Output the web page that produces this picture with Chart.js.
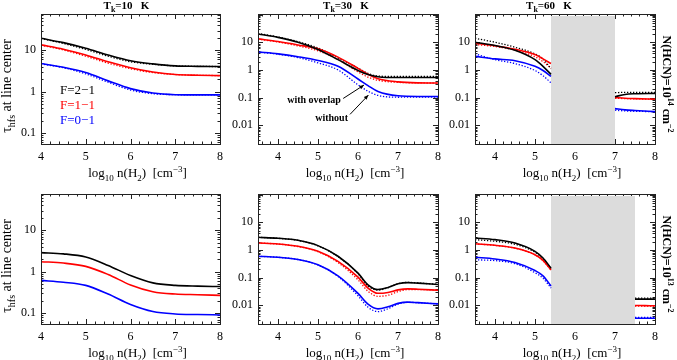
<!DOCTYPE html>
<html>
<head>
<meta charset="utf-8">
<script src="https://cdn.jsdelivr.net/npm/chart.js@4.4.1/dist/chart.umd.min.js"></script>
<style>
  body { margin: 0; background: #fff; }
  #wrap { position: relative; width: 677px; height: 360px; }
  #wrap canvas { position: absolute; left: 0; top: 0; }
</style>
</head>
<body>
<div id="wrap">
  <canvas id="p1" width="677" height="360"></canvas>
  <canvas id="p2" width="677" height="360"></canvas>
  <canvas id="p3" width="677" height="360"></canvas>
  <canvas id="p4" width="677" height="360"></canvas>
  <canvas id="p5" width="677" height="360"></canvas>
  <canvas id="p6" width="677" height="360"></canvas>
</div>
<script>
// tick labels
const xTickLabels = [4, 5, 6, 7, 8];
const yLabelsWide = [0.1, 1, 10];
const yLabelsDeep = [0.01, 0.1, 1, 10];

// Tk=10 K, N(HCN)=1e14  (solid = with overlap, "no" = without)
const t10aX = [4, 4.5, 5, 5.5, 6, 6.5, 7, 7.5, 8];
const t10aF21 = [19.5, 15.3, 11.2, 7.7, 5.6, 4.7, 4.2, 4.1, 4.05];
const t10aF21no = [19.3, 14.6, 10.5, 7.2, 5.3, 4.6, 4.2, 4.1, 4.05];
const t10aF11 = [13.5, 10.6, 7.7, 5.3, 3.8, 3.0, 2.6, 2.5, 2.45];
const t10aF11no = [13.3, 10.2, 7.2, 4.9, 3.6, 2.9, 2.6, 2.5, 2.45];
const t10aF01 = [4.8, 3.9, 2.9, 1.83, 1.19, 0.93, 0.85, 0.84, 0.84];
const t10aF01no = [4.7, 3.8, 2.7, 1.7, 1.1, 0.9, 0.85, 0.84, 0.84];

// Tk=30 K, 1e14
const t30aX = [3.5, 4, 4.5, 5, 5.5, 6, 6.25, 6.5, 7, 7.5, 8];
const t30aF21 = [20, 15, 10, 5.5, 2.35, 0.96, 0.68, 0.57, 0.53, 0.53, 0.53];
const t30aF21no = [21, 15.5, 10.5, 6.2, 2.7, 1.17, 0.75, 0.6, 0.58, 0.58, 0.58];
const t30aF11 = [13.2, 10.6, 8.0, 5.8, 2.9, 1.14, 0.7, 0.48, 0.37, 0.34, 0.335];
const t30aF11no = [13, 10.2, 7.4, 4.9, 2.4, 0.85, 0.55, 0.42, 0.355, 0.34, 0.335];
const t30aF01 = [4.45, 3.8, 3.0, 2.2, 1.35, 0.47, 0.27, 0.166, 0.116, 0.11, 0.11];
const t30aF01no = [4.4, 3.7, 2.8, 1.8, 1.0, 0.29, 0.17, 0.12, 0.103, 0.105, 0.105];

// Tk=60 K, 1e14 (gap where there is no solution)
const t60aX = [3.5, 4, 4.5, 5, 5.2, 5.4, 6.2, 7, 7.25, 7.5, 8];
const t60aF21 = [10, 7.6, 5.1, 2.35, 1.35, 0.69, null, 0.108, 0.13, 0.138, 0.142];
const t60aF21no = [14, 10, 6.6, 3.8, 2.5, 1.1, null, 0.15, 0.155, 0.155, 0.155];
const t60aF11 = [9.2, 7.5, 5.6, 3.6, 2.5, 1.7, null, 0.1, 0.095, 0.092, 0.087];
const t60aF11no = [8.3, 7.0, 5.2, 3.0, 2.0, 1.15, null, 0.095, 0.092, 0.09, 0.087];
const t60aF01 = [3.1, 2.5, 2.15, 1.35, 0.95, 0.58, null, 0.04, 0.036, 0.034, 0.031];
const t60aF01no = [3.8, 2.35, 1.7, 0.95, 0.62, 0.34, null, 0.035, 0.033, 0.032, 0.031];
const t60aBand = [5.4, 7.0];

// Tk=10 K, N(HCN)=1e13
const t10bX = [4, 4.5, 5, 5.5, 6, 6.5, 7, 7.5, 8];
const t10bF21 = [2.9, 2.7, 2.26, 1.42, 0.81, 0.54, 0.47, 0.45, 0.44];
const t10bF11 = [1.75, 1.62, 1.35, 0.86, 0.48, 0.33, 0.29, 0.28, 0.27];
const t10bF01 = [0.62, 0.56, 0.47, 0.29, 0.163, 0.11, 0.096, 0.093, 0.091];

// Tk=30 K, 1e13
const t30bX = [3.5, 4, 4.5, 5, 5.5, 6, 6.25, 6.5, 6.75, 7, 7.25, 7.5, 8];
const t30bF21 = [2.86, 2.63, 2.23, 1.43, 0.59, 0.145, 0.055, 0.037, 0.044, 0.06, 0.066, 0.063, 0.056];
const t30bF21no = [2.86, 2.62, 2.2, 1.4, 0.57, 0.14, 0.05, 0.035, 0.043, 0.06, 0.067, 0.064, 0.057];
const t30bF11 = [1.78, 1.64, 1.35, 0.89, 0.385, 0.104, 0.042, 0.027, 0.029, 0.036, 0.039, 0.038, 0.035];
const t30bF11no = [1.78, 1.63, 1.33, 0.86, 0.35, 0.083, 0.032, 0.021, 0.023, 0.031, 0.037, 0.037, 0.035];
const t30bF01 = [0.59, 0.54, 0.45, 0.29, 0.116, 0.027, 0.011, 0.0074, 0.0088, 0.0117, 0.013, 0.0124, 0.0112];
const t30bF01no = [0.59, 0.54, 0.45, 0.285, 0.11, 0.022, 0.0085, 0.0059, 0.0075, 0.011, 0.0128, 0.0123, 0.0112];

// Tk=60 K, 1e13
const t60bX = [3.5, 4, 4.5, 5, 5.2, 5.4, 6.4, 7.5, 7.75, 8];
const t60bF21 = [2.7, 2.35, 1.78, 0.89, 0.51, 0.22, null, 0.0166, 0.0166, 0.0166];
const t60bF21no = [2.35, 2.05, 1.6, 0.82, 0.48, 0.21, null, 0.018, 0.018, 0.018];
const t60bF11 = [1.68, 1.47, 1.17, 0.67, 0.42, 0.19, null, 0.0098, 0.0097, 0.0096];
const t60bF11no = [1.66, 1.45, 1.15, 0.66, 0.41, 0.185, null, 0.0094, 0.0093, 0.0092];
const t60bF01 = [0.54, 0.47, 0.35, 0.18, 0.116, 0.05, null, 0.0034, 0.0034, 0.0034];
const t60bF01no = [0.44, 0.41, 0.32, 0.15, 0.095, 0.042, null, 0.0036, 0.0036, 0.0036];
const t60bBand = [5.4, 7.5];

// arrows in the 30 K panel
const noteTexts = ['with overlap', 'without'];
const noteLabelX = [4.9, 5.34];
const noteLabelY = [0.063, 0.0148];
const noteFrom = [[5.63, 0.093], [5.8, 0.0247]];
const noteTo = [[6.15, 0.284], [6.26, 0.123]];

const legendTexts = ['F=2\u22121', 'F=1\u22121', 'F=0\u22121'];
const colors = ['#000000', '#ff0000', '#0000ff'];

const serif = "'Liberation Serif', 'Times New Roman', serif";

function series(xs, ys, color, dotted) {
    return {
        data: xs.map((v, i) => ({ x: v, y: ys[i] })),
        borderColor: color,
        borderWidth: dotted ? 1.3 : 1.6,
        borderDash: dotted ? [1.3, 1.7] : [],
        pointRadius: 0,
        fill: false,
        spanGaps: false,
        cubicInterpolationMode: 'monotone'
    };
}

function fontFor(part, size, bold) {
    const s = part[1] ? Math.round(size * 0.7) : size;
    return (bold ? 'bold ' : '') + s + 'px ' + serif;
}

// text with sub/superscripts, centred on (x, y) baseline
function drawRich(ctx, parts, x, y, size, bold, rot) {
    ctx.save();
    ctx.translate(x, y);
    ctx.rotate(rot || 0);
    let w = 0;
    for (const p of parts) {
        ctx.font = fontFor(p, size, bold);
        w += ctx.measureText(p[0]).width;
    }
    let cx = -w / 2;
    ctx.fillStyle = '#000';
    ctx.textAlign = 'left';
    ctx.textBaseline = 'alphabetic';
    for (const p of parts) {
        ctx.font = fontFor(p, size, bold);
        const dy = p[1] === 'sub' ? size * 0.3 : p[1] === 'sup' ? -size * 0.42 : 0;
        ctx.fillText(p[0], cx, dy);
        cx += ctx.measureText(p[0]).width;
    }
    ctx.restore();
}

const framePlugin = {
    id: 'frame',
    beforeDatasetsDraw(chart) {
        const { ctx, chartArea: a } = chart;
        const x = chart.scales.x, y = chart.scales.y;
        const cfg = chart.options.plugins.frame;
        ctx.save();
        ctx.strokeStyle = '#222';
        ctx.lineWidth = 1;
        ctx.beginPath();
        for (let i = Math.ceil(x.min * 5 - 1e-9); i <= Math.floor(x.max * 5 + 1e-9); i++) {
            const v = i / 5;
            const px = Math.round(x.getPixelForValue(v)) + 0.5;
            const len = Math.abs(v - Math.round(v)) < 1e-6 ? 5 : 2.5;
            ctx.moveTo(px, a.bottom); ctx.lineTo(px, a.bottom - len);
            ctx.moveTo(px, a.top); ctx.lineTo(px, a.top + len);
        }
        const e0 = Math.floor(Math.log10(y.min)), e1 = Math.ceil(Math.log10(y.max));
        for (let e = e0; e <= e1; e++) {
            for (let k = 1; k <= 9; k++) {
                const v = k * Math.pow(10, e);
                if (v < y.min || v > y.max) continue;
                const py = Math.round(y.getPixelForValue(v)) + 0.5;
                const len = k === 1 ? 5 : 2.5;
                ctx.moveTo(a.left, py); ctx.lineTo(a.left + len, py);
                ctx.moveTo(a.right, py); ctx.lineTo(a.right - len, py);
            }
        }
        ctx.stroke();
        if (cfg.band) {
            const b0 = x.getPixelForValue(cfg.band[0]);
            const b1 = x.getPixelForValue(cfg.band[1]);
            ctx.fillStyle = '#dcdcdc';
            ctx.fillRect(b0, a.top + 2, b1 - b0, a.bottom - a.top - 2);
        }
        ctx.restore();
    },
    afterDraw(chart) {
        const { ctx, chartArea: a } = chart;
        const x = chart.scales.x, y = chart.scales.y;
        const cfg = chart.options.plugins.frame;
        ctx.save();
        ctx.strokeStyle = '#222';
        ctx.lineWidth = 1;
        ctx.strokeRect(Math.round(a.left) + 0.5, Math.round(a.top) + 0.5,
            Math.round(a.right - a.left), Math.round(a.bottom - a.top));
        ctx.restore();

        const midX = (a.left + a.right) / 2;
        if (cfg.title) {
            drawRich(ctx, [['T'], ['k', 'sub'], ['=' + cfg.title + '   K']], midX + cfg.titleShift, 9, 11, true);
        }
        drawRich(ctx, [['log'], ['10', 'sub'], [' n(H'], ['2', 'sub'], [')  [cm'], ['\u22123', 'sup'], [']']],
            midX + 7, a.bottom + 33, 13, false);
        if (cfg.yTitle) {
            drawRich(ctx, [['\u03c4'], ['hfs', 'sub'], [' at line center']], 10.5, a.top + 72, 14, false, -Math.PI / 2);
        }
        if (cfg.right) {
            drawRich(ctx, [['N(HCN)=10'], [cfg.right, 'sup'], [' cm'], ['\u22122', 'sup']], 663, a.top + 70, 12, true, Math.PI / 2);
        }
        if (cfg.legend) {
            ctx.save();
            ctx.font = '13px ' + serif;
            ctx.textAlign = 'left';
            ctx.textBaseline = 'alphabetic';
            legendTexts.forEach((t, i) => {
                ctx.fillStyle = colors[i];
                ctx.fillText(t, a.left + 19, a.top + 80 + i * 15);
            });
            ctx.restore();
        }
        if (cfg.notes) {
            ctx.save();
            ctx.font = 'bold 10px ' + serif;
            ctx.textAlign = 'center';
            ctx.fillStyle = '#000';
            ctx.strokeStyle = '#000';
            ctx.lineWidth = 1;
            noteTexts.forEach((t, i) => {
                ctx.fillText(t, x.getPixelForValue(noteLabelX[i]), y.getPixelForValue(noteLabelY[i]));
                const fx = x.getPixelForValue(noteFrom[i][0]), fy = y.getPixelForValue(noteFrom[i][1]);
                const tx = x.getPixelForValue(noteTo[i][0]), ty = y.getPixelForValue(noteTo[i][1]);
                ctx.beginPath();
                ctx.moveTo(fx, fy); ctx.lineTo(tx, ty); ctx.stroke();
                const ang = Math.atan2(ty - fy, tx - fx);
                ctx.beginPath();
                ctx.moveTo(tx, ty);
                ctx.lineTo(tx - 5 * Math.cos(ang - 0.4), ty - 5 * Math.sin(ang - 0.4));
                ctx.lineTo(tx - 5 * Math.cos(ang + 0.4), ty - 5 * Math.sin(ang + 0.4));
                ctx.closePath();
                ctx.fill();
            });
            ctx.restore();
        }
    }
};

function fmtTick(v) {
    return v >= 1 ? String(Math.round(v)) : String(parseFloat(v.toPrecision(1)));
}

function makePanel(id, box, xMin, yMin, yMax, yLabels, datasets, frame) {
    const yW = 40, xH = 20;
    new Chart(document.getElementById(id), {
        type: 'line',
        data: { datasets: datasets },
        options: {
            responsive: false,
            animation: false,
            layout: {
                autoPadding: false,
                padding: { left: box[0] - yW, top: box[1], right: 677 - box[2], bottom: 360 - box[3] - xH }
            },
            plugins: { legend: { display: false }, tooltip: { enabled: false }, frame: frame },
            scales: {
                x: {
                    type: 'linear', min: xMin, max: 8,
                    grid: { display: false, drawTicks: false }, border: { display: false },
                    afterFit: s => { s.height = xH; },
                    afterBuildTicks: s => { s.ticks = xTickLabels.filter(v => v >= s.min).map(v => ({ value: v })); },
                    ticks: {
                        autoSkip: false, maxRotation: 0, padding: 6, color: '#000',
                        font: { family: serif, size: 12 },
                        callback: v => String(v)
                    }
                },
                y: {
                    type: 'logarithmic', min: yMin, max: yMax,
                    grid: { display: false, drawTicks: false }, border: { display: false },
                    afterFit: s => { s.width = yW; },
                    afterBuildTicks: s => { s.ticks = yLabels.map(v => ({ value: v })); },
                    ticks: {
                        autoSkip: false, padding: 5, color: '#000',
                        font: { family: serif, size: 12 },
                        callback: v => fmtTick(v)
                    }
                }
            }
        },
        plugins: [framePlugin]
    });
}

function sixLines(xs, a, ano, b, bno, c, cno) {
    const out = [series(xs, a, colors[0], false), series(xs, b, colors[1], false), series(xs, c, colors[2], false)];
    if (ano) out.push(series(xs, ano, colors[0], true));
    if (bno) out.push(series(xs, bno, colors[1], true));
    if (cno) out.push(series(xs, cno, colors[2], true));
    return out;
}

makePanel('p1', [41, 14, 220, 144], 4, 0.055, 75, yLabelsWide,
    sixLines(t10aX, t10aF21, t10aF21no, t10aF11, t10aF11no, t10aF01, t10aF01no),
    { title: '10', titleShift: -4, yTitle: true, legend: true });
makePanel('p2', [258, 14, 438, 144], 3.5, 0.0021, 105, yLabelsDeep,
    sixLines(t30aX, t30aF21, t30aF21no, t30aF11, t30aF11no, t30aF01, t30aF01no),
    { title: '30', titleShift: -2, notes: true });
makePanel('p3', [475, 14, 655, 144], 3.5, 0.0021, 105, yLabelsDeep,
    sixLines(t60aX, t60aF21, t60aF21no, t60aF11, t60aF11no, t60aF01, t60aF01no),
    { title: '60', titleShift: -16, right: '14', band: t60aBand });
makePanel('p4', [41, 194, 220, 324], 4, 0.055, 75, yLabelsWide,
    sixLines(t10bX, t10bF21, null, t10bF11, null, t10bF01, null),
    { yTitle: true });
makePanel('p5', [258, 194, 438, 324], 3.5, 0.0021, 105, yLabelsDeep,
    sixLines(t30bX, t30bF21, t30bF21no, t30bF11, t30bF11no, t30bF01, t30bF01no),
    {});
makePanel('p6', [475, 194, 655, 324], 3.5, 0.0021, 105, yLabelsDeep,
    sixLines(t60bX, t60bF21, t60bF21no, t60bF11, t60bF11no, t60bF01, t60bF01no),
    { right: '13', band: t60bBand });
</script>
</body>
</html>
